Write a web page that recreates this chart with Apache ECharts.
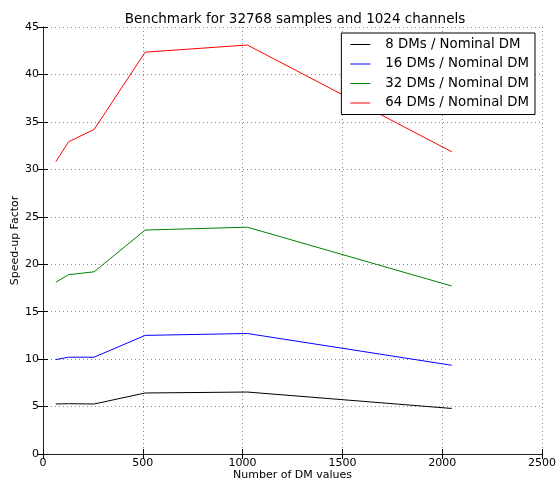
<!DOCTYPE html>
<html><head><meta charset="utf-8">
<script src="https://cdn.jsdelivr.net/npm/echarts@6/dist/echarts.min.js"></script>
<style>html,body{margin:0;padding:0;background:#fff}#c{width:556px;height:480px}</style>
</head><body><div id="c"></div>
<script>
const xValues = [64, 128, 256, 512, 1024, 2048];
const dm8 = [5.27, 5.3, 5.27, 6.43, 6.53, 4.8];
const dm16 = [9.95, 10.2, 10.2, 12.5, 12.7, 9.35];
const dm32 = [18.1, 18.9, 19.2, 23.6, 23.9, 17.7];
const dm64 = [30.8, 32.9, 34.2, 42.35, 43.1, 31.85];
const seriesNames = ['8 DMs / Nominal DM', '16 DMs / Nominal DM', '32 DMs / Nominal DM', '64 DMs / Nominal DM'];
const seriesColors = ['#000000', '#0000ff', '#008000', '#ff0000'];
const seriesData = [dm8, dm16, dm32, dm64];
const font = 'DejaVu Sans';
const chart = echarts.init(document.getElementById('c'));
const gridLine = {show: true, lineStyle: {color: '#888', type: [1, 3], width: 1}};
const axisL = {show: true, lineStyle: {color: '#222', width: 1}};
chart.setOption({
  animation: false,
  title: {text: 'Benchmark for 32768 samples and 1024 channels', left: 290, top: 7, textAlign: 'center',
    textStyle: {fontFamily: font, fontSize: 13.5, fontWeight: 'normal', color: '#000'}},
  grid: {left: 43, right: 14, top: 27, bottom: 26, outerBoundsMode: 'none', containLabel: false},
  legend: {
    right: 21, top: 33, orient: 'vertical', align: 'left',
    borderColor: '#000', borderWidth: 1, backgroundColor: '#fff', borderRadius: 0,
    padding: [4, 6, 4, 9], itemGap: 4.5, itemWidth: 20, itemHeight: 1, icon: 'rect',
    textStyle: {fontFamily: font, fontSize: 13.3, color: '#000', padding: [0, 0, 0, 10], lineHeight: 15},
    data: seriesNames
  },
  xAxis: [{
    type: 'value', min: 0, max: 2500, interval: 500,
    name: 'Number of DM values', nameLocation: 'middle', nameGap: 16, nameMoveOverlap: false,
    nameTextStyle: {fontFamily: font, fontSize: 11, color: '#000'},
    axisLine: axisL, axisTick: {show: true, inside: true, length: 5, lineStyle: {color: '#000'}},
    axisLabel: {fontFamily: font, fontSize: 11, color: '#000', margin: 4, formatter: v => String(v)},
    splitLine: gridLine
  }, {
    type: 'value', position: 'top', min: 0, max: 2500, interval: 500,
    axisLine: axisL, axisTick: {show: true, inside: true, length: 5, lineStyle: {color: '#000'}},
    axisLabel: {show: false}, splitLine: {show: false}
  }],
  yAxis: [{
    type: 'value', min: 0, max: 45, interval: 5,
    name: 'Speed-up Factor', nameLocation: 'middle', nameGap: 22, nameRotate: 90, nameMoveOverlap: false,
    nameTextStyle: {fontFamily: font, fontSize: 11, color: '#000'},
    axisLine: axisL, axisTick: {show: true, inside: true, length: 5, lineStyle: {color: '#000'}},
    axisLabel: {fontFamily: font, fontSize: 11, color: '#000', margin: 4},
    splitLine: gridLine
  }, {
    type: 'value', position: 'right', min: 0, max: 45, interval: 5,
    axisLine: axisL, axisTick: {show: true, inside: true, length: 5, lineStyle: {color: '#000'}},
    axisLabel: {show: false}, splitLine: {show: false}
  }],
  series: seriesNames.map((n, i) => ({
    name: n, type: 'line', xAxisIndex: 0, yAxisIndex: 0,
    data: xValues.map((x, j) => [x, seriesData[i][j]]),
    showSymbol: false, symbol: 'none',
    lineStyle: {color: seriesColors[i], width: 1}, itemStyle: {color: seriesColors[i]}
  }))
});
</script></body></html>
